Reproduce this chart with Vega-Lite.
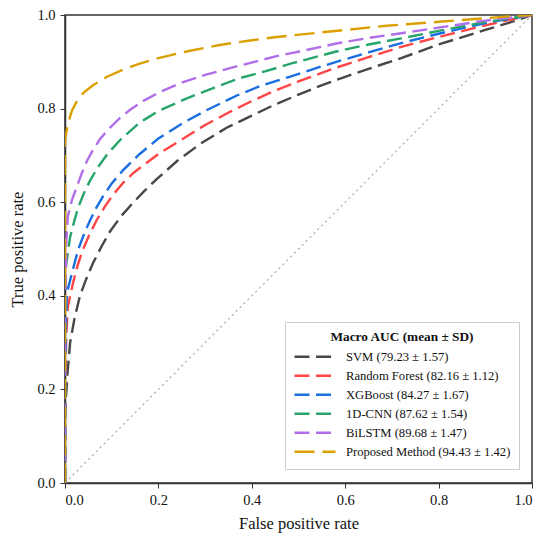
{
  "$schema": "https://vega.github.io/schema/vega-lite/v6.json",
  "width": 467,
  "height": 468,
  "autosize": {"type": "none"},
  "padding": {"left": 65, "top": 15, "right": 18, "bottom": 58},
  "background": "white",
  "config": {
    "font": "Liberation Serif, Times New Roman, serif",
    "view": {"stroke": "#333333", "strokeWidth": 1.5},
    "axis": {
      "grid": false,
      "domainColor": "#333333",
      "domainWidth": 1.5,
      "tickColor": "#333333",
      "tickSize": 5,
      "labelFont": "Liberation Serif, Times New Roman, serif",
      "labelFontSize": 14.5,
      "labelColor": "#111111",
      "titleFont": "Liberation Serif, Times New Roman, serif",
      "titleFontSize": 16.5,
      "titleFontWeight": "normal",
      "titleColor": "#111111"
    }
  },
  "datasets": {
    "roc": [
      {"model": "SVM (79.23 ± 1.57)", "fpr": 0, "tpr": 0},
      {"model": "SVM (79.23 ± 1.57)", "fpr": 0, "tpr": 0.15},
      {"model": "SVM (79.23 ± 1.57)", "fpr": 0.005, "tpr": 0.23},
      {"model": "SVM (79.23 ± 1.57)", "fpr": 0.011, "tpr": 0.3},
      {"model": "SVM (79.23 ± 1.57)", "fpr": 0.02, "tpr": 0.35},
      {"model": "SVM (79.23 ± 1.57)", "fpr": 0.032, "tpr": 0.4},
      {"model": "SVM (79.23 ± 1.57)", "fpr": 0.045, "tpr": 0.435},
      {"model": "SVM (79.23 ± 1.57)", "fpr": 0.06, "tpr": 0.47},
      {"model": "SVM (79.23 ± 1.57)", "fpr": 0.078, "tpr": 0.505},
      {"model": "SVM (79.23 ± 1.57)", "fpr": 0.096, "tpr": 0.537},
      {"model": "SVM (79.23 ± 1.57)", "fpr": 0.12, "tpr": 0.57},
      {"model": "SVM (79.23 ± 1.57)", "fpr": 0.145, "tpr": 0.598},
      {"model": "SVM (79.23 ± 1.57)", "fpr": 0.17, "tpr": 0.624},
      {"model": "SVM (79.23 ± 1.57)", "fpr": 0.197, "tpr": 0.65},
      {"model": "SVM (79.23 ± 1.57)", "fpr": 0.24, "tpr": 0.688},
      {"model": "SVM (79.23 ± 1.57)", "fpr": 0.29, "tpr": 0.725},
      {"model": "SVM (79.23 ± 1.57)", "fpr": 0.346, "tpr": 0.759},
      {"model": "SVM (79.23 ± 1.57)", "fpr": 0.4, "tpr": 0.785},
      {"model": "SVM (79.23 ± 1.57)", "fpr": 0.444, "tpr": 0.806},
      {"model": "SVM (79.23 ± 1.57)", "fpr": 0.5, "tpr": 0.83},
      {"model": "SVM (79.23 ± 1.57)", "fpr": 0.545, "tpr": 0.848},
      {"model": "SVM (79.23 ± 1.57)", "fpr": 0.6, "tpr": 0.868},
      {"model": "SVM (79.23 ± 1.57)", "fpr": 0.65, "tpr": 0.885},
      {"model": "SVM (79.23 ± 1.57)", "fpr": 0.72, "tpr": 0.908},
      {"model": "SVM (79.23 ± 1.57)", "fpr": 0.8, "tpr": 0.937},
      {"model": "SVM (79.23 ± 1.57)", "fpr": 0.9, "tpr": 0.968},
      {"model": "SVM (79.23 ± 1.57)", "fpr": 0.95, "tpr": 0.983},
      {"model": "SVM (79.23 ± 1.57)", "fpr": 1, "tpr": 1},

      {"model": "Random Forest (82.16 ± 1.12)", "fpr": 0, "tpr": 0},
      {"model": "Random Forest (82.16 ± 1.12)", "fpr": 0, "tpr": 0.2},
      {"model": "Random Forest (82.16 ± 1.12)", "fpr": 0.003, "tpr": 0.32},
      {"model": "Random Forest (82.16 ± 1.12)", "fpr": 0.006, "tpr": 0.376},
      {"model": "Random Forest (82.16 ± 1.12)", "fpr": 0.017, "tpr": 0.427},
      {"model": "Random Forest (82.16 ± 1.12)", "fpr": 0.027, "tpr": 0.465},
      {"model": "Random Forest (82.16 ± 1.12)", "fpr": 0.038, "tpr": 0.498},
      {"model": "Random Forest (82.16 ± 1.12)", "fpr": 0.052, "tpr": 0.53},
      {"model": "Random Forest (82.16 ± 1.12)", "fpr": 0.068, "tpr": 0.562},
      {"model": "Random Forest (82.16 ± 1.12)", "fpr": 0.085, "tpr": 0.59},
      {"model": "Random Forest (82.16 ± 1.12)", "fpr": 0.103, "tpr": 0.616},
      {"model": "Random Forest (82.16 ± 1.12)", "fpr": 0.125, "tpr": 0.642},
      {"model": "Random Forest (82.16 ± 1.12)", "fpr": 0.145, "tpr": 0.661},
      {"model": "Random Forest (82.16 ± 1.12)", "fpr": 0.16, "tpr": 0.673},
      {"model": "Random Forest (82.16 ± 1.12)", "fpr": 0.2, "tpr": 0.703},
      {"model": "Random Forest (82.16 ± 1.12)", "fpr": 0.252, "tpr": 0.735},
      {"model": "Random Forest (82.16 ± 1.12)", "fpr": 0.3, "tpr": 0.765},
      {"model": "Random Forest (82.16 ± 1.12)", "fpr": 0.353, "tpr": 0.793},
      {"model": "Random Forest (82.16 ± 1.12)", "fpr": 0.4, "tpr": 0.816},
      {"model": "Random Forest (82.16 ± 1.12)", "fpr": 0.444, "tpr": 0.836},
      {"model": "Random Forest (82.16 ± 1.12)", "fpr": 0.5, "tpr": 0.858},
      {"model": "Random Forest (82.16 ± 1.12)", "fpr": 0.573, "tpr": 0.885},
      {"model": "Random Forest (82.16 ± 1.12)", "fpr": 0.65, "tpr": 0.91},
      {"model": "Random Forest (82.16 ± 1.12)", "fpr": 0.72, "tpr": 0.932},
      {"model": "Random Forest (82.16 ± 1.12)", "fpr": 0.8, "tpr": 0.953},
      {"model": "Random Forest (82.16 ± 1.12)", "fpr": 0.9, "tpr": 0.978},
      {"model": "Random Forest (82.16 ± 1.12)", "fpr": 1, "tpr": 1},

      {"model": "XGBoost (84.27 ± 1.67)", "fpr": 0, "tpr": 0},
      {"model": "XGBoost (84.27 ± 1.67)", "fpr": 0, "tpr": 0.25},
      {"model": "XGBoost (84.27 ± 1.67)", "fpr": 0.004, "tpr": 0.406},
      {"model": "XGBoost (84.27 ± 1.67)", "fpr": 0.015, "tpr": 0.449},
      {"model": "XGBoost (84.27 ± 1.67)", "fpr": 0.028, "tpr": 0.498},
      {"model": "XGBoost (84.27 ± 1.67)", "fpr": 0.04, "tpr": 0.53},
      {"model": "XGBoost (84.27 ± 1.67)", "fpr": 0.053, "tpr": 0.56},
      {"model": "XGBoost (84.27 ± 1.67)", "fpr": 0.067, "tpr": 0.588},
      {"model": "XGBoost (84.27 ± 1.67)", "fpr": 0.081, "tpr": 0.612},
      {"model": "XGBoost (84.27 ± 1.67)", "fpr": 0.1, "tpr": 0.64},
      {"model": "XGBoost (84.27 ± 1.67)", "fpr": 0.124, "tpr": 0.668},
      {"model": "XGBoost (84.27 ± 1.67)", "fpr": 0.16, "tpr": 0.703},
      {"model": "XGBoost (84.27 ± 1.67)", "fpr": 0.2, "tpr": 0.736},
      {"model": "XGBoost (84.27 ± 1.67)", "fpr": 0.252, "tpr": 0.769},
      {"model": "XGBoost (84.27 ± 1.67)", "fpr": 0.3, "tpr": 0.795},
      {"model": "XGBoost (84.27 ± 1.67)", "fpr": 0.368, "tpr": 0.828},
      {"model": "XGBoost (84.27 ± 1.67)", "fpr": 0.42, "tpr": 0.849},
      {"model": "XGBoost (84.27 ± 1.67)", "fpr": 0.481, "tpr": 0.868},
      {"model": "XGBoost (84.27 ± 1.67)", "fpr": 0.53, "tpr": 0.884},
      {"model": "XGBoost (84.27 ± 1.67)", "fpr": 0.581, "tpr": 0.9},
      {"model": "XGBoost (84.27 ± 1.67)", "fpr": 0.65, "tpr": 0.92},
      {"model": "XGBoost (84.27 ± 1.67)", "fpr": 0.72, "tpr": 0.94},
      {"model": "XGBoost (84.27 ± 1.67)", "fpr": 0.8, "tpr": 0.96},
      {"model": "XGBoost (84.27 ± 1.67)", "fpr": 0.9, "tpr": 0.983},
      {"model": "XGBoost (84.27 ± 1.67)", "fpr": 1, "tpr": 1},

      {"model": "1D-CNN (87.62 ± 1.54)", "fpr": 0, "tpr": 0},
      {"model": "1D-CNN (87.62 ± 1.54)", "fpr": 0, "tpr": 0.3},
      {"model": "1D-CNN (87.62 ± 1.54)", "fpr": 0.002, "tpr": 0.462},
      {"model": "1D-CNN (87.62 ± 1.54)", "fpr": 0.011, "tpr": 0.526},
      {"model": "1D-CNN (87.62 ± 1.54)", "fpr": 0.02, "tpr": 0.56},
      {"model": "1D-CNN (87.62 ± 1.54)", "fpr": 0.028, "tpr": 0.588},
      {"model": "1D-CNN (87.62 ± 1.54)", "fpr": 0.04, "tpr": 0.618},
      {"model": "1D-CNN (87.62 ± 1.54)", "fpr": 0.053, "tpr": 0.645},
      {"model": "1D-CNN (87.62 ± 1.54)", "fpr": 0.07, "tpr": 0.674},
      {"model": "1D-CNN (87.62 ± 1.54)", "fpr": 0.09, "tpr": 0.702},
      {"model": "1D-CNN (87.62 ± 1.54)", "fpr": 0.12, "tpr": 0.735},
      {"model": "1D-CNN (87.62 ± 1.54)", "fpr": 0.16, "tpr": 0.77},
      {"model": "1D-CNN (87.62 ± 1.54)", "fpr": 0.2, "tpr": 0.795},
      {"model": "1D-CNN (87.62 ± 1.54)", "fpr": 0.261, "tpr": 0.822},
      {"model": "1D-CNN (87.62 ± 1.54)", "fpr": 0.32, "tpr": 0.845},
      {"model": "1D-CNN (87.62 ± 1.54)", "fpr": 0.374, "tpr": 0.865},
      {"model": "1D-CNN (87.62 ± 1.54)", "fpr": 0.43, "tpr": 0.88},
      {"model": "1D-CNN (87.62 ± 1.54)", "fpr": 0.487, "tpr": 0.897},
      {"model": "1D-CNN (87.62 ± 1.54)", "fpr": 0.581, "tpr": 0.922},
      {"model": "1D-CNN (87.62 ± 1.54)", "fpr": 0.65, "tpr": 0.937},
      {"model": "1D-CNN (87.62 ± 1.54)", "fpr": 0.72, "tpr": 0.95},
      {"model": "1D-CNN (87.62 ± 1.54)", "fpr": 0.8, "tpr": 0.966},
      {"model": "1D-CNN (87.62 ± 1.54)", "fpr": 0.9, "tpr": 0.985},
      {"model": "1D-CNN (87.62 ± 1.54)", "fpr": 1, "tpr": 1},

      {"model": "BiLSTM (89.68 ± 1.47)", "fpr": 0, "tpr": 0},
      {"model": "BiLSTM (89.68 ± 1.47)", "fpr": 0, "tpr": 0.35},
      {"model": "BiLSTM (89.68 ± 1.47)", "fpr": 0.003, "tpr": 0.52},
      {"model": "BiLSTM (89.68 ± 1.47)", "fpr": 0.006, "tpr": 0.57},
      {"model": "BiLSTM (89.68 ± 1.47)", "fpr": 0.015, "tpr": 0.605},
      {"model": "BiLSTM (89.68 ± 1.47)", "fpr": 0.026, "tpr": 0.635},
      {"model": "BiLSTM (89.68 ± 1.47)", "fpr": 0.036, "tpr": 0.662},
      {"model": "BiLSTM (89.68 ± 1.47)", "fpr": 0.047, "tpr": 0.688},
      {"model": "BiLSTM (89.68 ± 1.47)", "fpr": 0.06, "tpr": 0.712},
      {"model": "BiLSTM (89.68 ± 1.47)", "fpr": 0.075, "tpr": 0.735},
      {"model": "BiLSTM (89.68 ± 1.47)", "fpr": 0.095, "tpr": 0.758},
      {"model": "BiLSTM (89.68 ± 1.47)", "fpr": 0.118, "tpr": 0.78},
      {"model": "BiLSTM (89.68 ± 1.47)", "fpr": 0.14, "tpr": 0.798},
      {"model": "BiLSTM (89.68 ± 1.47)", "fpr": 0.167, "tpr": 0.816},
      {"model": "BiLSTM (89.68 ± 1.47)", "fpr": 0.2, "tpr": 0.834},
      {"model": "BiLSTM (89.68 ± 1.47)", "fpr": 0.246, "tpr": 0.854},
      {"model": "BiLSTM (89.68 ± 1.47)", "fpr": 0.3, "tpr": 0.872},
      {"model": "BiLSTM (89.68 ± 1.47)", "fpr": 0.374, "tpr": 0.892},
      {"model": "BiLSTM (89.68 ± 1.47)", "fpr": 0.453, "tpr": 0.912},
      {"model": "BiLSTM (89.68 ± 1.47)", "fpr": 0.502, "tpr": 0.922},
      {"model": "BiLSTM (89.68 ± 1.47)", "fpr": 0.581, "tpr": 0.939},
      {"model": "BiLSTM (89.68 ± 1.47)", "fpr": 0.65, "tpr": 0.951},
      {"model": "BiLSTM (89.68 ± 1.47)", "fpr": 0.72, "tpr": 0.961},
      {"model": "BiLSTM (89.68 ± 1.47)", "fpr": 0.8, "tpr": 0.973},
      {"model": "BiLSTM (89.68 ± 1.47)", "fpr": 0.9, "tpr": 0.988},
      {"model": "BiLSTM (89.68 ± 1.47)", "fpr": 1, "tpr": 1},

      {"model": "Proposed Method (94.43 ± 1.42)", "fpr": 0, "tpr": 0},
      {"model": "Proposed Method (94.43 ± 1.42)", "fpr": 0, "tpr": 0.733},
      {"model": "Proposed Method (94.43 ± 1.42)", "fpr": 0.005, "tpr": 0.76},
      {"model": "Proposed Method (94.43 ± 1.42)", "fpr": 0.01, "tpr": 0.78},
      {"model": "Proposed Method (94.43 ± 1.42)", "fpr": 0.015, "tpr": 0.796},
      {"model": "Proposed Method (94.43 ± 1.42)", "fpr": 0.025, "tpr": 0.815},
      {"model": "Proposed Method (94.43 ± 1.42)", "fpr": 0.04, "tpr": 0.834},
      {"model": "Proposed Method (94.43 ± 1.42)", "fpr": 0.06, "tpr": 0.85},
      {"model": "Proposed Method (94.43 ± 1.42)", "fpr": 0.09, "tpr": 0.868},
      {"model": "Proposed Method (94.43 ± 1.42)", "fpr": 0.124, "tpr": 0.883},
      {"model": "Proposed Method (94.43 ± 1.42)", "fpr": 0.16, "tpr": 0.896},
      {"model": "Proposed Method (94.43 ± 1.42)", "fpr": 0.2, "tpr": 0.908},
      {"model": "Proposed Method (94.43 ± 1.42)", "fpr": 0.26, "tpr": 0.922},
      {"model": "Proposed Method (94.43 ± 1.42)", "fpr": 0.331, "tpr": 0.936},
      {"model": "Proposed Method (94.43 ± 1.42)", "fpr": 0.4, "tpr": 0.946},
      {"model": "Proposed Method (94.43 ± 1.42)", "fpr": 0.453, "tpr": 0.953},
      {"model": "Proposed Method (94.43 ± 1.42)", "fpr": 0.502, "tpr": 0.958},
      {"model": "Proposed Method (94.43 ± 1.42)", "fpr": 0.6, "tpr": 0.968},
      {"model": "Proposed Method (94.43 ± 1.42)", "fpr": 0.688, "tpr": 0.977},
      {"model": "Proposed Method (94.43 ± 1.42)", "fpr": 0.808, "tpr": 0.986},
      {"model": "Proposed Method (94.43 ± 1.42)", "fpr": 0.936, "tpr": 0.996},
      {"model": "Proposed Method (94.43 ± 1.42)", "fpr": 1, "tpr": 1}
    ],
    "chance": [
      {"fpr": 0, "tpr": 0},
      {"fpr": 1, "tpr": 1}
    ]
  },
  "layer": [
    {
      "data": {"name": "chance"},
      "mark": {"type": "line", "color": "#aaaaaa", "strokeWidth": 1.2, "strokeDash": [2, 3.5]},
      "encoding": {
        "x": {"field": "fpr", "type": "quantitative"},
        "y": {"field": "tpr", "type": "quantitative"}
      }
    },
    {
      "data": {"name": "roc"},
      "mark": {"type": "line", "clip": true},
      "encoding": {
        "x": {
          "field": "fpr",
          "type": "quantitative",
          "title": "False positive rate",
          "scale": {"domain": [0, 1], "nice": false},
          "axis": {"values": [0, 0.2, 0.4, 0.6, 0.8, 1], "format": ".1f", "labelPadding": 5, "titlePadding": 9}
        },
        "y": {
          "field": "tpr",
          "type": "quantitative",
          "title": "True positive rate",
          "scale": {"domain": [0, 1], "nice": false},
          "axis": {"values": [0, 0.2, 0.4, 0.6, 0.8, 1], "format": ".1f", "labelPadding": 5, "titlePadding": 11}
        },
        "order": {"field": "tpr", "type": "quantitative"},
        "color": {
          "field": "model",
          "type": "nominal",
          "scale": {
            "domain": ["SVM (79.23 ± 1.57)", "Random Forest (82.16 ± 1.12)", "XGBoost (84.27 ± 1.67)", "1D-CNN (87.62 ± 1.54)", "BiLSTM (89.68 ± 1.47)", "Proposed Method (94.43 ± 1.42)"],
            "range": ["#474747", "#ff4646", "#1a6fe0", "#27a56a", "#b06ee8", "#daa000"]
          },
          "legend": {
            "title": "Macro AUC (mean ± SD)",
            "orient": "none",
            "legendX": 220,
            "legendY": 307,
            "symbolType": "stroke",
            "symbolSize": 1681,
            "clipHeight": 17,
            "rowPadding": 2,
            "labelOffset": 9,
            "labelFont": "Liberation Serif, Times New Roman, serif",
            "labelFontSize": 12.6,
            "labelColor": "#111111",
            "labelLimit": 300,
            "titleFont": "Liberation Serif, Times New Roman, serif",
            "titleFontSize": 13.3,
            "titleFontWeight": "bold",
            "titleColor": "#111111",
            "titleAnchor": "middle",
            "titlePadding": 5,
            "padding": 8,
            "strokeColor": "#cccccc",
            "fillColor": "white",
            "cornerRadius": 0
          }
        },
        "strokeDash": {
          "field": "model",
          "type": "nominal",
          "scale": {
            "domain": ["SVM (79.23 ± 1.57)", "Random Forest (82.16 ± 1.12)", "XGBoost (84.27 ± 1.67)", "1D-CNN (87.62 ± 1.54)", "BiLSTM (89.68 ± 1.47)", "Proposed Method (94.43 ± 1.42)"],
            "range": [[15, 6.5], [15, 6.5], [15, 6.5], [15, 6.5], [15, 6.5], [20, 8]]
          },
          "legend": {"title": "Macro AUC (mean ± SD)"}
        },
        "strokeWidth": {
          "field": "model",
          "type": "nominal",
          "scale": {
            "domain": ["SVM (79.23 ± 1.57)", "Random Forest (82.16 ± 1.12)", "XGBoost (84.27 ± 1.67)", "1D-CNN (87.62 ± 1.54)", "BiLSTM (89.68 ± 1.47)", "Proposed Method (94.43 ± 1.42)"],
            "range": [2.4, 2.4, 2.4, 2.4, 2.4, 3.8]
          },
          "legend": {"title": "Macro AUC (mean ± SD)"}
        }
      }
    }
  ]
}
